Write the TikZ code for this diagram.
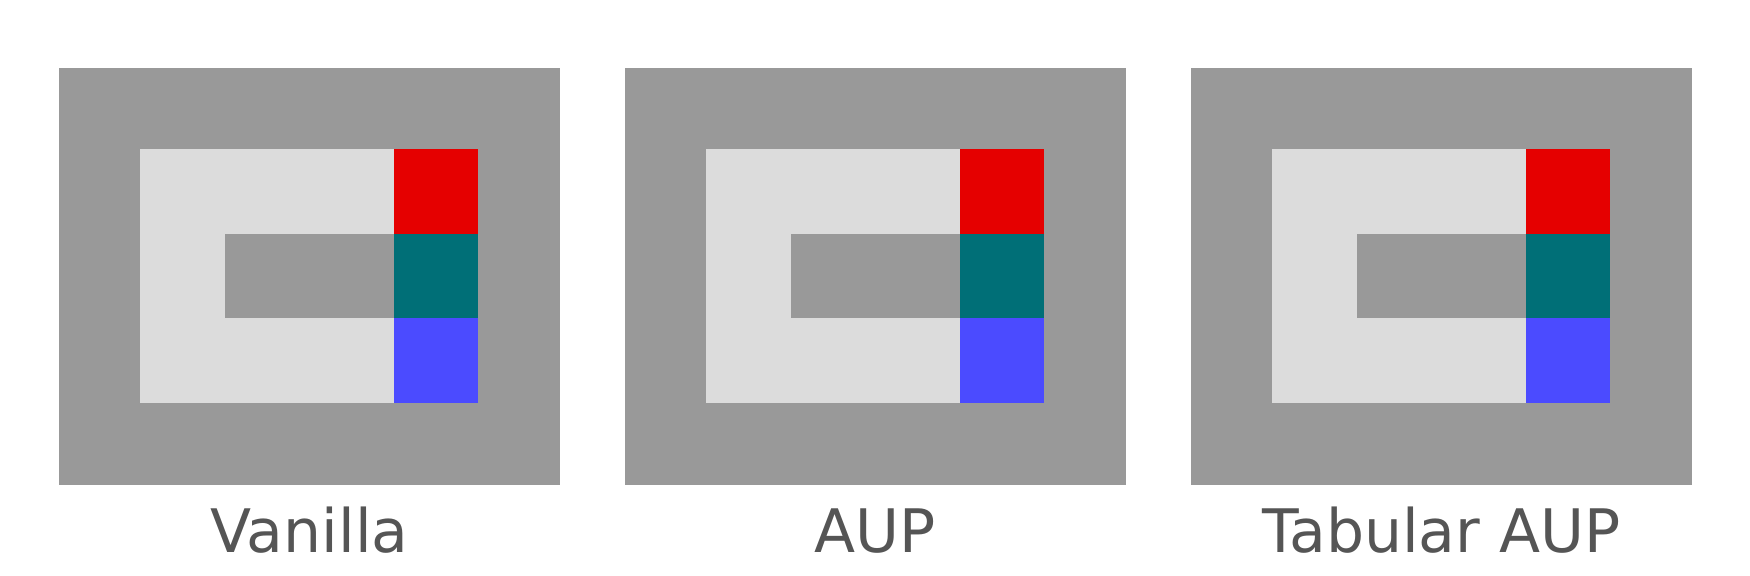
\documentclass[tikz,border=0pt]{standalone}
\usepackage{fontspec}
\setmainfont{DejaVu Sans}
\usepackage{xcolor,tikz}
\usetikzlibrary{positioning}
\definecolor{WallGray}{HTML}{999999}
\definecolor{FloorGray}{HTML}{DCDCDC}
\definecolor{CellRed}{HTML}{E50000}
\definecolor{CellTeal}{HTML}{006F77}
\definecolor{CellBlue}{HTML}{4B4BFF}
\definecolor{LabelGray}{HTML}{555555}
\tikzset{wall/.style={fill=WallGray},floor/.style={fill=FloorGray},
 caption/.style={anchor=base,text=LabelGray,font=\fontsize{30}{36}\selectfont,inner sep=0pt}}

\begin{document}
\begin{tikzpicture}[x=0.5pt,y=-0.5pt]
\useasboundingbox (0,0) rectangle (1750,575);
\def\c{84.5}
\foreach \i/\name in {0/Vanilla,1/AUP,2/Tabular AUP}{
 \begin{scope}[xshift=566*\i*0.5pt]
 % outer wall and floor
 \fill[wall] (59,67.7) rectangle (560,485);
 \fill[floor] (140,149) rectangle (140+3*\c,149+3*\c);
 \fill[wall] (140+\c,149+\c) rectangle (140+3*\c,149+2*\c);
 % right column
 \fill[CellRed] (140+3*\c,149) rectangle (140+4*\c,149+\c);
 \fill[CellTeal] (140+3*\c,149+\c) rectangle (140+4*\c,149+2*\c);
 \fill[CellBlue] (140+3*\c,149+2*\c) rectangle (140+4*\c,149+3*\c);
 \node[caption] (lab\i) at (309.5,552) {\name};
 \end{scope}
}
\end{tikzpicture}
\end{document}
